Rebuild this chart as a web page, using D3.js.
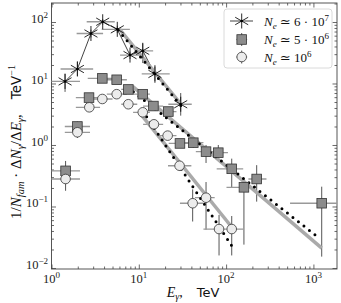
<!DOCTYPE html>
<html><head><meta charset="utf-8">
<script src="https://cdn.jsdelivr.net/npm/d3@7"></script>
<style>body{margin:0;background:#fff}svg{display:block}</style>
</head><body>
<script>
// ---- data ----
const asterE   = [1.43, 1.98, 2.83, 3.86, 5.67, 7.93, 11.1, 15.3, 30.2];
const asterY   = [10.8, 17.2, 65, 101, 76, 29, 34, 14.3, 4.6];
const asterXlo = [0.9, 1.27, 1.94, 2.53, 3.76, 6.1, 9.0, 10.8, 21.8];
const asterXhi = [2.12, 3.0, 3.9, 5.3, 7.9, 10.3, 14.6, 22.6, 40.4];
const asterYlo = [7.3, 13.3, 56, 90, 66, 25, 21.5, 10.2, 3.0];
const asterYhi = [14.5, 22.7, 75, 112, 87, 33, 46, 20, 7.0];

const sqE   = [1.45, 1.98, 2.69, 3.82, 5.58, 7.59, 11.1, 14.7, 21.8, 29.6, 42.1, 58.9, 81.4, 116, 160, 224, 1245];
const sqY   = [0.38, 2.0, 5.9, 12.1, 11.5, 8.0, 6.7, 4.3, 3.5, 1.06, 1.09, 0.78, 0.75, 0.41, 0.205, 0.28, 0.113];
const sqXlo = [0.9, 1.42, 1.9, 2.6, 4.3, 6.3, 8.6, 11.2, 17.5, 22, 33, 45, 63, 78, 101, 180, 540];
const sqXhi = [2.12, 2.76, 3.6, 5.0, 7.3, 9.6, 13.4, 19, 27, 40, 55, 76, 105, 157, 224, 290, 2000];
const sqYlo = [0.26, 1.75, 5.2, 10.8, 10.3, 7.1, 5.9, 3.8, 3.0, 0.9, 0.9, 0.51, 0.55, 0.2, 0.024, 0.12, 0.0153];
const sqYhi = [0.55, 2.4, 6.7, 13.5, 12.8, 9.0, 7.5, 4.9, 4.0, 1.25, 1.3, 1.0, 1.0, 0.6, 0.29, 0.47, 0.21];

const ciE   = [1.45, 1.98, 2.71, 3.82, 5.58, 7.59, 11.1, 14.9, 21.4, 29.3, 41.4, 58.9, 83, 116];
const ciY   = [0.28, 1.61, 4.1, 5.6, 6.7, 4.6, 3.4, 2.17, 1.42, 0.46, 0.113, 0.139, 0.043, 0.043];
const ciXlo = [0.9, 1.42, 1.9, 2.6, 4.3, 6.3, 8.6, 11.2, 17.5, 21.6, 29.6, 44, 55, 101];
const ciXhi = [2.12, 2.76, 3.6, 5.0, 7.3, 9.6, 13.4, 19, 27, 40, 54.6, 74, 101, 157];
const ciYlo = [0.18, 1.3, 3.6, 5.0, 6.0, 4.1, 3.0, 1.9, 1.25, 0.38, 0.057, 0.042, 0.016, 0.016];
const ciYhi = [0.4, 1.8, 4.6, 6.2, 7.4, 5.1, 3.8, 2.45, 1.6, 0.56, 0.19, 0.25, 0.073, 0.07];

// fit lines [E, y] endpoints
const fitGrayAster = [[5.9, 79], [31, 4.47]];
const fitGraySq    = [[8.5, 9.0], [1245, 0.021]];
const fitGrayCi    = [[10.3, 3.3], [111, 0.05]];
const fitDotAster  = [[5.8, 74], [32, 4.0]];
const fitDotSq     = [[7.5, 8.6], [1091, 0.033]];
const fitDotCi     = [[12.3, 2.89], [121, 0.021]];

const xMajor = [1, 10, 100, 1000];
const xMajorExp = ["0", "1", "2", "3"];
const yMajor = [0.01, 0.1, 1, 10, 100];
const yMajorExp = ["\u22122", "\u22121", "0", "1", "2"];

const legendLabels = [["6 \u00b7 10", "7"], ["5 \u00b7 10", "6"], ["10", "6"]];

// ---- layout ----
const W = 341, H = 303;
const L = 51.5, R = 337, T = 3, B = 269;
const x = d3.scaleLog().domain([1, 1863]).range([L, R]);
const y = d3.scaleLog().domain([0.00963, 203.7]).range([B, T]);

const svg = d3.select("body").append("svg").attr("width", W).attr("height", H);
svg.append("defs").append("clipPath").attr("id", "clip")
  .append("rect").attr("x", L).attr("y", T).attr("width", R - L).attr("height", B - T);

const serif = "'Liberation Serif', 'DejaVu Serif', serif";
const sans = "'DejaVu Sans', 'Liberation Sans', sans-serif";

// minor ticks
function minors(lo, hi) {
  const out = [];
  for (let e = Math.floor(Math.log10(lo)); e <= Math.ceil(Math.log10(hi)); e++)
    for (let k = 2; k <= 9; k++) { const v = k * Math.pow(10, e); if (v >= lo && v <= hi) out.push(v); }
  return out;
}
const axCol = "#444";
function styleAxis(g) { g.select(".domain").remove(); g.selectAll("line").attr("stroke", axCol).attr("stroke-width", 0.8); g.selectAll("text").remove(); }
const xMin = minors(1, 1863), yMin = minors(0.00963, 203.7);
svg.append("g").attr("transform", `translate(0,${B})`).call(d3.axisBottom(x).tickValues(xMajor).tickSizeInner(-4.5).tickFormat("")).call(styleAxis);
svg.append("g").attr("transform", `translate(0,${B})`).call(d3.axisBottom(x).tickValues(xMin).tickSizeInner(-2.5).tickFormat("")).call(styleAxis);
svg.append("g").attr("transform", `translate(0,${T})`).call(d3.axisTop(x).tickValues(xMajor).tickSizeInner(-4.5).tickFormat("")).call(styleAxis);
svg.append("g").attr("transform", `translate(0,${T})`).call(d3.axisTop(x).tickValues(xMin).tickSizeInner(-2.5).tickFormat("")).call(styleAxis);
svg.append("g").attr("transform", `translate(${L},0)`).call(d3.axisLeft(y).tickValues(yMajor).tickSizeInner(-4.5).tickFormat("")).call(styleAxis);
svg.append("g").attr("transform", `translate(${L},0)`).call(d3.axisLeft(y).tickValues(yMin).tickSizeInner(-2.5).tickFormat("")).call(styleAxis);
svg.append("g").attr("transform", `translate(${R},0)`).call(d3.axisRight(y).tickValues(yMajor).tickSizeInner(-4.5).tickFormat("")).call(styleAxis);
svg.append("g").attr("transform", `translate(${R},0)`).call(d3.axisRight(y).tickValues(yMin).tickSizeInner(-2.5).tickFormat("")).call(styleAxis);

svg.append("rect").attr("x", L).attr("y", T).attr("width", R - L).attr("height", B - T)
  .attr("fill", "none").attr("stroke", axCol).attr("stroke-width", 0.9);

// tick labels
xMajor.forEach((v, i) => {
  const t = svg.append("text").attr("x", x(v)).attr("y", 283).attr("text-anchor", "middle")
    .attr("font-family", serif).attr("font-size", 12.5).attr("fill", "#222");
  t.append("tspan").text("10");
  t.append("tspan").attr("dy", -5).attr("font-size", 9).text(xMajorExp[i]);
});
yMajor.forEach((v, i) => {
  const t = svg.append("text").attr("x", 48).attr("y", y(v) + 1).attr("text-anchor", "end")
    .attr("font-family", serif).attr("font-size", 12.5).attr("fill", "#222");
  t.append("tspan").text("10");
  t.append("tspan").attr("dy", -5).attr("font-size", 9).text(yMajorExp[i]);
});

// axis labels
{
  const t = svg.append("text").attr("x", 193).attr("y", 297).attr("text-anchor", "middle")
    .attr("font-size", 14).attr("fill", "#111");
  t.append("tspan").attr("font-family", serif).attr("font-style", "italic").text("E");
  t.append("tspan").attr("font-family", serif).attr("font-style", "italic").attr("font-size", 10).attr("dy", 3).text("\u03b3");
  t.append("tspan").attr("font-family", serif).attr("dy", -3).text(",\u2002\u2002");
  t.append("tspan").attr("font-family", sans).attr("font-size", 13).text("TeV");
}
{
  const t = svg.append("text").attr("transform", "translate(21,142) rotate(-90)").attr("text-anchor", "middle")
    .attr("font-size", 15).attr("fill", "#111").attr("font-family", serif);
  t.append("tspan").text("1/");
  t.append("tspan").attr("font-style", "italic").text("N");
  t.append("tspan").attr("font-style", "italic").attr("font-size", 10.5).attr("dy", 3).text("fam");
  t.append("tspan").attr("dy", -3).text(" \u00b7 \u0394");
  t.append("tspan").attr("font-style", "italic").text("N");
  t.append("tspan").attr("font-style", "italic").attr("font-size", 10.5).attr("dy", 3).text("\u03b3");
  t.append("tspan").attr("dy", -3).text("/\u0394");
  t.append("tspan").attr("font-style", "italic").text("E");
  t.append("tspan").attr("font-style", "italic").attr("font-size", 10.5).attr("dy", 3).text("\u03b3");
  t.append("tspan").attr("dy", -3).text(",\u2002\u2002");
  t.append("tspan").attr("font-family", sans).attr("font-size", 13.5).text("TeV");
  t.append("tspan").attr("font-size", 10).attr("dy", -6).text("\u22121");
}

const plot = svg.append("g").attr("clip-path", "url(#clip)");

// error bars
function errbars(E, Y, xlo, xhi, ylo, yhi) {
  const g = plot.append("g");
  E.forEach((e, i) => {
    g.append("line").attr("x1", x(xlo[i])).attr("x2", x(xhi[i])).attr("y1", y(Y[i])).attr("y2", y(Y[i]))
      .attr("stroke", "#999").attr("stroke-width", 1.3);
    g.append("line").attr("x1", x(e)).attr("x2", x(e)).attr("y1", y(ylo[i])).attr("y2", y(yhi[i]))
      .attr("stroke", "#555").attr("stroke-width", 1);
  });
}
errbars(asterE, asterY, asterXlo, asterXhi, asterYlo, asterYhi);
errbars(sqE, sqY, sqXlo, sqXhi, sqYlo, sqYhi);
errbars(ciE, ciY, ciXlo, ciXhi, ciYlo, ciYhi);

// asterisk connecting line
const line = d3.line().x(d => x(d[0])).y(d => y(d[1]));
plot.append("path").datum(asterE.map((e, i) => [e, asterY[i]])).attr("d", line)
  .attr("fill", "none").attr("stroke", "#111").attr("stroke-width", 0.8);

// fit lines
[fitGrayAster, fitGraySq, fitGrayCi].forEach(f => plot.append("path").datum(f).attr("d", line)
  .attr("fill", "none").attr("stroke", "#aaa").attr("stroke-width", 3.5));
[fitDotAster, fitDotSq, fitDotCi].forEach(f => plot.append("path").datum(f).attr("d", line)
  .attr("fill", "none").attr("stroke", "#000").attr("stroke-width", 3).attr("stroke-linecap", "round")
  .attr("stroke-dasharray", "0 7"));

// markers
function asterisk(g, cx, cy, r) {
  [90, 30, -30].forEach(a => {
    const dx = r * Math.cos(a * Math.PI / 180), dy = r * Math.sin(a * Math.PI / 180);
    g.append("line").attr("x1", cx - dx).attr("x2", cx + dx).attr("y1", cy - dy).attr("y2", cy + dy)
      .attr("stroke", "#111").attr("stroke-width", 0.9);
  });
  g.append("circle").attr("cx", cx).attr("cy", cy).attr("r", 1.3).attr("fill", "#000");
}
const mk = plot.append("g");
asterE.forEach((e, i) => asterisk(mk, x(e), y(asterY[i]), 7.5));
sqE.forEach((e, i) => mk.append("rect").attr("x", x(e) - 4.8).attr("y", y(sqY[i]) - 4.8).attr("width", 9.6).attr("height", 9.6)
  .attr("fill", "#8c8c8c").attr("stroke", "#333").attr("stroke-width", 0.8));
ciE.forEach((e, i) => mk.append("circle").attr("cx", x(e)).attr("cy", y(ciY[i])).attr("r", 4.8)
  .attr("fill", "#ececec").attr("stroke", "#333").attr("stroke-width", 0.8));

// legend
const lg = svg.append("g");
lg.append("rect").attr("x", 224).attr("y", 9).attr("width", 108).attr("height", 59).attr("rx", 3)
  .attr("fill", "#fff").attr("fill-opacity", 0.85).attr("stroke", "#d0d0d0").attr("stroke-width", 0.8);
const ly = [21, 39.5, 57], lx = 241.7;
lg.append("line").attr("x1", 230).attr("x2", 253).attr("y1", ly[0]).attr("y2", ly[0]).attr("stroke", "#111").attr("stroke-width", 0.8);
asterisk(lg, lx, ly[0], 7.5);
[1, 2].forEach(k => {
  lg.append("line").attr("x1", lx - 5.5).attr("x2", lx + 5.5).attr("y1", ly[k]).attr("y2", ly[k]).attr("stroke", "#999").attr("stroke-width", 1.2);
  lg.append("line").attr("x1", lx).attr("x2", lx).attr("y1", ly[k] - 6.5).attr("y2", ly[k] + 6.5).attr("stroke", "#555").attr("stroke-width", 1);
});
lg.append("rect").attr("x", lx - 4.8).attr("y", ly[1] - 4.8).attr("width", 9.6).attr("height", 9.6)
  .attr("fill", "#8c8c8c").attr("stroke", "#333").attr("stroke-width", 0.8);
lg.append("circle").attr("cx", lx).attr("cy", ly[2]).attr("r", 4.8).attr("fill", "#ececec").attr("stroke", "#333").attr("stroke-width", 0.8);
legendLabels.forEach((lab, k) => {
  const t = lg.append("text").attr("x", 264).attr("y", ly[k] + 4.5).attr("font-family", serif).attr("font-size", 13).attr("fill", "#111");
  t.append("tspan").attr("font-style", "italic").text("N");
  t.append("tspan").attr("font-style", "italic").attr("font-size", 9).attr("dy", 3).text("e");
  t.append("tspan").attr("dy", -3).text(" \u2243 " + lab[0]);
  t.append("tspan").attr("font-size", 9).attr("dy", -5).text(lab[1]);
});
</script>
</body></html>
